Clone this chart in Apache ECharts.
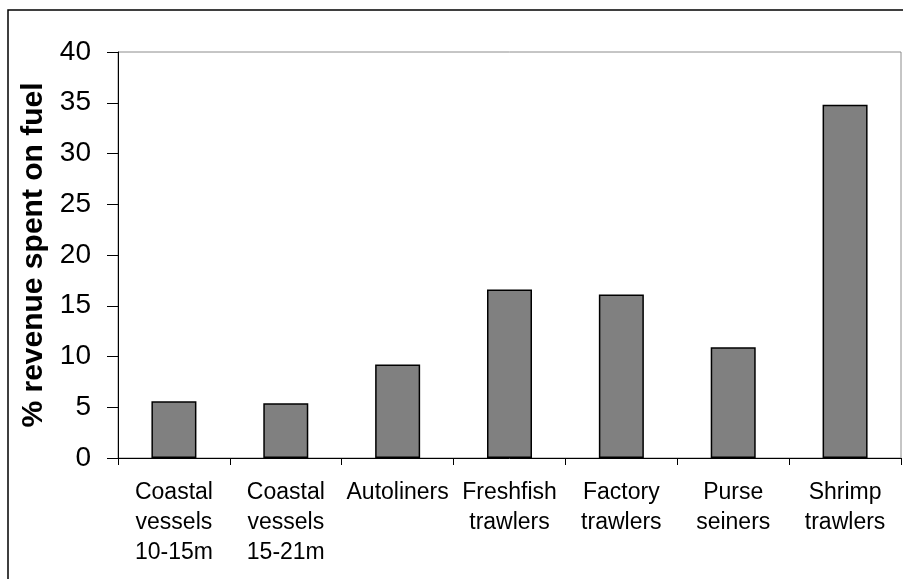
<!DOCTYPE html>
<html>
<head>
<meta charset="utf-8">
<script src="https://cdn.jsdelivr.net/npm/echarts@6/dist/echarts.min.js"></script>
<style>
html,body{margin:0;padding:0;background:#fff;}
#chart{width:903px;height:579px;}
</style>
</head>
<body>
<div id="chart"></div>
<script>
var categories = ['Coastal\nvessels\n10-15m', 'Coastal\nvessels\n15-21m', 'Autoliners', 'Freshfish\ntrawlers', 'Factory\ntrawlers', 'Purse\nseiners', 'Shrimp\ntrawlers'];
var fuelShare = [5.6, 5.4, 9.2, 16.6, 16.1, 10.9, 34.8];
var yTitle = '% revenue spent on fuel';

var chart = echarts.init(document.getElementById('chart'), null, {renderer: 'canvas'});
chart.setOption({
  backgroundColor: '#fff',
  animation: false,
  graphic: [{
    type: 'rect',
    shape: {x: 8, y: 10, width: 905, height: 590},
    style: {fill: 'none', stroke: '#000', lineWidth: 1.5},
    z: 100
  }],
  grid: {
    left: 118, top: 52, right: 2, bottom: 121,
    show: true, borderColor: '#8c8c8c', borderWidth: 1, backgroundColor: 'transparent'
  },
  xAxis: {
    type: 'category',
    data: categories,
    axisLine: {show: true, lineStyle: {color: '#000', width: 1}},
    axisTick: {show: true, length: 7, alignWithLabel: false, lineStyle: {color: '#000'}},
    axisLabel: {
      interval: 0, margin: 20, color: '#000', fontSize: 23, lineHeight: 30,
      fontFamily: 'Liberation Sans, Arial, sans-serif'
    },
    splitLine: {show: false}
  },
  yAxis: {
    type: 'value',
    min: 0, max: 40, interval: 5,
    name: yTitle,
    nameLocation: 'middle',
    nameRotate: 90,
    nameGap: 66,
    nameTextStyle: {
      color: '#000', fontSize: 30, fontWeight: 'bold',
      fontFamily: 'Liberation Sans, Arial, sans-serif'
    },
    axisLine: {show: true, lineStyle: {color: '#000', width: 1}},
    axisTick: {show: true, length: 11, lineStyle: {color: '#000'}},
    axisLabel: {
      margin: 27, color: '#000', fontSize: 28,
      fontFamily: 'Liberation Sans, Arial, sans-serif'
    },
    splitLine: {show: false}
  },
  series: [{
    type: 'bar',
    data: fuelShare,
    barWidth: 45,
    itemStyle: {color: '#808080', borderColor: '#000', borderWidth: 1.5}
  }]
});
</script>
</body>
</html>
